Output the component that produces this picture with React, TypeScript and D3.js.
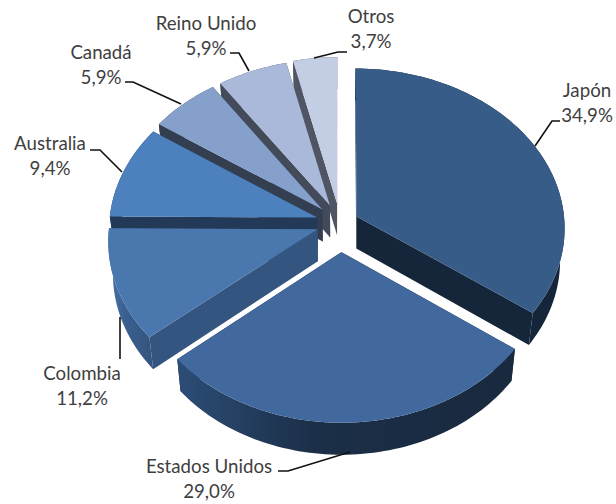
import React from "react";
import * as d3 from "d3";

const categories = ["Japón", "Estados Unidos", "Colombia", "Australia", "Canadá", "Reino Unido", "Otros"];
const shares = [34.9, 29.0, 11.2, 9.4, 5.9, 5.9, 3.7];
const shareLabels = ["34,9%", "29,0%", "11,2%", "9,4%", "5,9%", "5,9%", "3,7%"];
const explode = [0.09, 0.18, 0.115, 0.115, 0.12, 0.12, 0.125];
const radiusScale = [1, 0.975, 1, 1, 1, 1, 1];
const topColors = ["#375C88", "#41699E", "#4A77AE", "#4D81BD", "#85A0CB", "#AAB9DA", "#C3CEE4"];
const wallColors = ["#16263A", "#19293E", "#34557F", "#223A58", "#333F50", "#434B5A", "#4F5562"];
const outerFrom = ["#16263A", "#2C4D77", "#4A75AB", "#223A58", "#333F50", "#434B5A", "#4F5562"];
const outerMid = ["#16263A", "#1B2F48", "#3A6090", "#223A58", "#333F50", "#434B5A", "#4F5562"];
const outerTo = ["#16263A", "#19293E", "#34557F", "#223A58", "#333F50", "#434B5A", "#4F5562"];

const labelX = [587, 209, 82, 50, 101, 206, 371];
const labelY = [90, 466, 373, 143, 52, 23, 16];
const leaders: [number, number][][] = [
  [[535, 146], [552, 121], [560, 121]],
  [[350, 452], [288, 471], [278, 471]],
  [[120, 317], [120, 359]],
  [[122, 172], [100, 150], [90, 150]],
  [[181, 104], [133, 82], [125, 82]],
  [[249, 71], [239, 53], [230, 53]],
  [[314, 58], [338, 52], [347, 52]],
];

const CX = 340, CY = 223, RX = 208, RY = 160, K = 0.07, DEPTH = 32, BOTTOM_SCALE = 0.98;

export default function App() {
  const pie = d3.pie<number>().sort(null).startAngle(0).endAngle(2 * Math.PI);
  const arcs = pie(shares);
  const line = d3.line();

  const project = (a: number, r: number, mid: number, e: number): [number, number] => {
    const u = r * Math.sin(a) + e * Math.sin(mid);
    const v = -r * Math.cos(a) - e * Math.cos(mid);
    const f = 1 + K * v;
    return [CX + RX * u * f, CY + RY * v * f];
  };
  const shift = (p: [number, number]): [number, number] => [CX + (p[0] - CX) * BOTTOM_SCALE, p[1] + DEPTH];

  const slices = arcs.map((d, i) => {
    const mid = (d.startAngle + d.endAngle) / 2;
    const e = explode[i];
    const n = Math.max(8, Math.ceil((d.endAngle - d.startAngle) * 40));
    const rim = d3.range(n + 1).map((k) =>
      project(d.startAngle + ((d.endAngle - d.startAngle) * k) / n, radiusScale[i], mid, e)
    );
    const apex = project(0, 0, mid, e);
    const wall = (p: [number, number]) => line([apex, p, shift(p), shift(apex)]) + "Z";
    return {
      i,
      top: line([apex, ...rim]) + "Z",
      startWall: wall(rim[0]),
      endWall: wall(rim[n]),
      outer: line([...rim, ...rim.slice().reverse().map(shift)]) + "Z",
      x0: d3.min(rim, (p) => p[0])!,
      x1: d3.max(rim, (p) => p[0])!,
    };
  });

  return (
    <svg
      width={616}
      height={504}
      style={{ position: "absolute", left: 0, top: 0, background: "#fff" }}
      fontFamily="Lato, 'Open Sans', sans-serif"
    >
      <defs>
        {slices.map((s) => (
          <linearGradient
            key={s.i}
            id={`outer${s.i}`}
            gradientUnits="userSpaceOnUse"
            x1={s.x0}
            x2={s.x1}
            y1={0}
            y2={0}
          >
            <stop offset="0%" stopColor={outerFrom[s.i]} />
            <stop offset="40%" stopColor={outerMid[s.i]} />
            <stop offset="100%" stopColor={outerTo[s.i]} />
          </linearGradient>
        ))}
      </defs>
      {slices
        .slice()
        .reverse()
        .map((s) => (
          <g key={s.i}>
            <path d={s.startWall} fill={wallColors[s.i]} />
            <path d={s.endWall} fill={wallColors[s.i]} />
            <path d={s.outer} fill={`url(#outer${s.i})`} />
            <path d={s.top} fill={topColors[s.i]} />
          </g>
        ))}
      {leaders.map((pts, i) => (
        <path key={i} d={line(pts)!} fill="none" stroke="#111" strokeWidth={1.6} />
      ))}
      {categories.map((c, i) => (
        <text key={c} x={labelX[i]} y={labelY[i]} textAnchor="middle" fontSize={18.7} fill="#404040" dominantBaseline="central">
          <tspan x={labelX[i]}>{c}</tspan>
          <tspan x={labelX[i]} dy={24.5}>{shareLabels[i]}</tspan>
        </text>
      ))}
    </svg>
  );
}
